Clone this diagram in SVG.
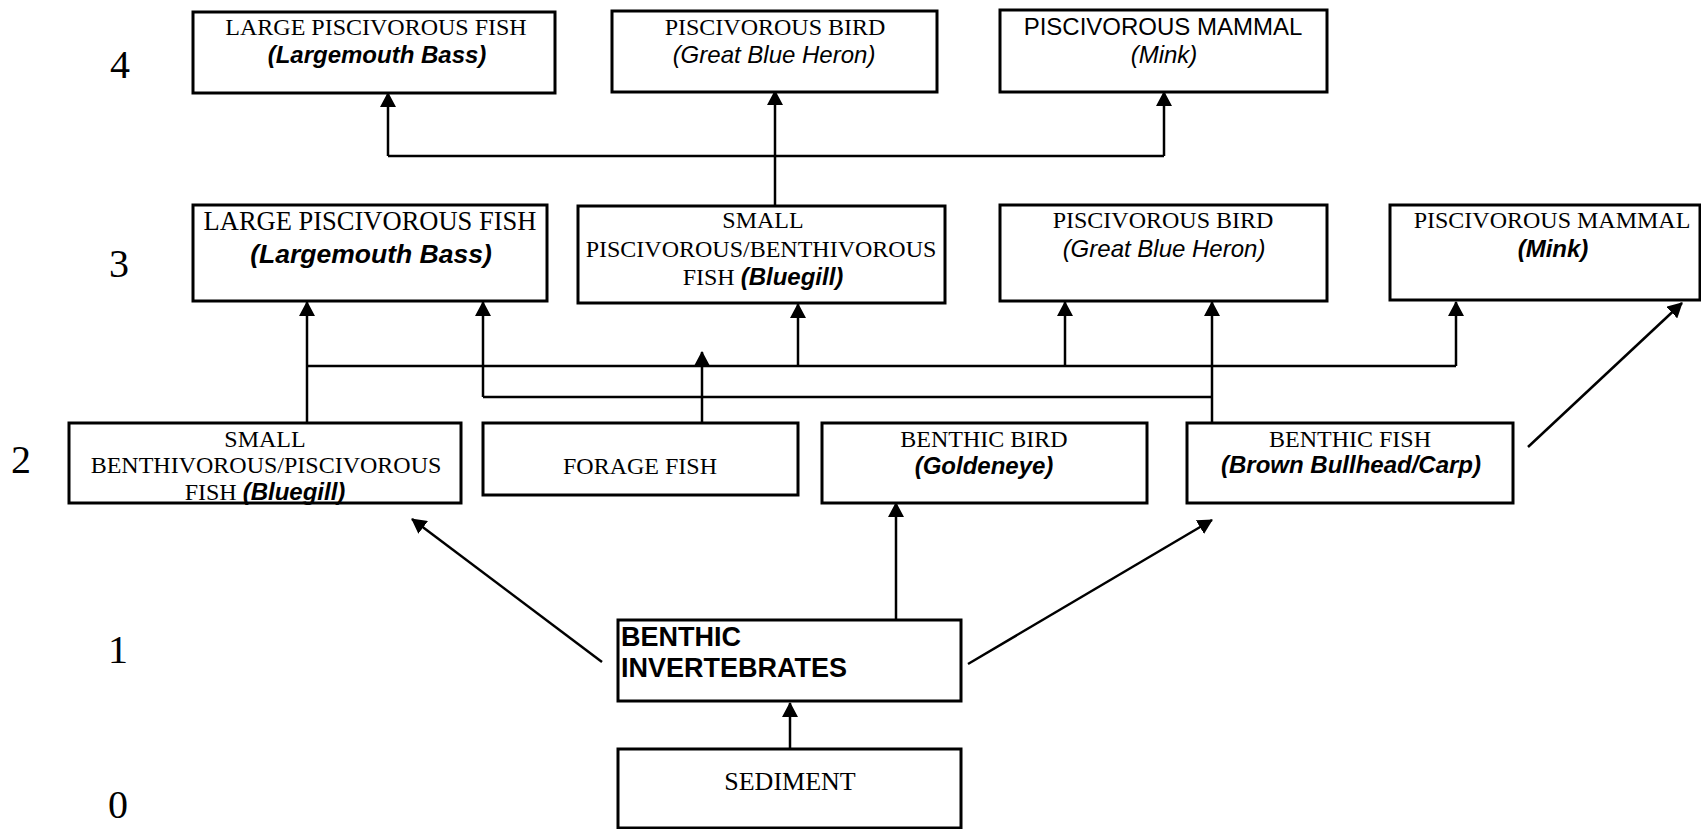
<svg xmlns="http://www.w3.org/2000/svg" width="1701" height="829" viewBox="0 0 1701 829">
<style>
.box{fill:#fff;stroke:#000;stroke-width:3}
.t{font-family:"Liberation Serif","Times New Roman",serif;font-size:24px;fill:#000;text-anchor:middle}
.s{font-family:"Liberation Sans",Arial,sans-serif;font-size:24px;fill:#000;text-anchor:middle}
.i{font-family:"Liberation Sans",Arial,sans-serif;font-style:italic}
.bi{font-family:"Liberation Sans",Arial,sans-serif;font-style:italic;font-weight:bold}
.num{font-family:"Liberation Serif","Times New Roman",serif;font-size:40px;fill:#000;text-anchor:middle}
.ln{fill:none;stroke:#000;stroke-width:2.5}
.ar{fill:none;stroke:#000;stroke-width:2.5;marker-end:url(#ah)}
</style>
<defs>
<marker id="ah" viewBox="0 0 15 16" refX="14" refY="8" markerWidth="15" markerHeight="16" markerUnits="userSpaceOnUse" orient="auto">
<path d="M0,0 L15,8 L0,16 z" fill="#000"/>
</marker>
</defs>
<rect width="1701" height="829" fill="#fff"/>

<g id="levels">
<text class="num" x="120" y="78">4</text>
<text class="num" x="119" y="277">3</text>
<text class="num" x="21" y="473">2</text>
<text class="num" x="118" y="663">1</text>
<text class="num" x="118" y="818">0</text>
</g>

<g id="connectors">
<path class="ln" d="M388,156 H1164"/>
<path class="ar" d="M388,156 V93"/>
<path class="ar" d="M1164,156 V92"/>
<path class="ar" d="M775,206 V91"/>
<path class="ln" d="M307,366 H1456"/>
<path class="ln" d="M483,397 H1212"/>
<path class="ar" d="M307,423 V302"/>
<path class="ar" d="M483,397 V302"/>
<path class="ar" d="M798,366 V304"/>
<path class="ar" d="M1065,366 V302"/>
<path class="ar" d="M1212,423 V302"/>
<path class="ar" d="M1456,366 V302"/>
<path class="ar" d="M702,423 V352"/>
<path class="ar" d="M896,619 V503"/>
<path class="ar" d="M790,749 V703"/>
<path class="ar" d="M602,662 L412,519"/>
<path class="ar" d="M968,664 L1212,520"/>
<path class="ar" d="M1528,447 L1682,303"/>
</g>

<g id="l4-bass">
<rect class="box" x="193" y="12" width="362" height="81"/>
<text class="t" x="376" y="35">LARGE PISCIVOROUS FISH</text>
<text class="s bi" x="377" y="63">(Largemouth Bass)</text>
</g>
<g id="l4-heron">
<rect class="box" x="612" y="11" width="325" height="81"/>
<text class="t" x="775" y="35">PISCIVOROUS BIRD</text>
<text class="s i" x="774" y="63">(Great Blue Heron)</text>
</g>
<g id="l4-mink">
<rect class="box" x="1000" y="10" width="327" height="82"/>
<text class="s" x="1163" y="35">PISCIVOROUS MAMMAL</text>
<text class="s i" x="1164" y="63">(Mink)</text>
</g>

<g id="l3-bass">
<rect class="box" x="193" y="205" width="354" height="96"/>
<text class="t" x="370" y="230" style="font-size:26.5px">LARGE PISCIVOROUS FISH</text>
<text class="s bi" x="371" y="263" style="font-size:26.5px">(Largemouth Bass)</text>
</g>
<g id="l3-bluegill">
<rect class="box" x="578" y="206" width="367" height="97"/>
<text class="t" x="763" y="228">SMALL</text>
<text class="t" x="761" y="257">PISCIVOROUS/BENTHIVOROUS</text>
<text class="t" x="763" y="285">FISH <tspan class="bi">(Bluegill)</tspan></text>
</g>
<g id="l3-heron">
<rect class="box" x="1000" y="205" width="327" height="96"/>
<text class="t" x="1163" y="228">PISCIVOROUS BIRD</text>
<text class="s i" x="1164" y="257">(Great Blue Heron)</text>
</g>
<g id="l3-mink">
<rect class="box" x="1390" y="205" width="310" height="95"/>
<text class="t" x="1552" y="228">PISCIVOROUS MAMMAL</text>
<text class="s bi" x="1553" y="257">(Mink)</text>
</g>

<g id="l2-bluegill">
<rect class="box" x="69" y="423" width="392" height="80"/>
<text class="t" x="265" y="447">SMALL</text>
<text class="t" x="266" y="473">BENTHIVOROUS/PISCIVOROUS</text>
<text class="t" x="265" y="500">FISH <tspan class="bi">(Bluegill)</tspan></text>
</g>
<g id="l2-forage">
<rect class="box" x="483" y="423" width="315" height="72"/>
<text class="t" x="640" y="474">FORAGE FISH</text>
</g>
<g id="l2-goldeneye">
<rect class="box" x="822" y="423" width="325" height="80"/>
<text class="t" x="984" y="447">BENTHIC BIRD</text>
<text class="s bi" x="984" y="474">(Goldeneye)</text>
</g>
<g id="l2-benthicfish">
<rect class="box" x="1187" y="423" width="326" height="80"/>
<text class="t" x="1350" y="447">BENTHIC FISH</text>
<text class="s bi" x="1351" y="473">(Brown Bullhead/Carp)</text>
</g>

<g id="l1-invertebrates">
<rect class="box" x="618" y="620" width="343" height="81"/>
<text x="621" y="646" style="font-family:'Liberation Sans',Arial,sans-serif;font-weight:bold;font-size:27px">BENTHIC</text>
<text x="621" y="677" style="font-family:'Liberation Sans',Arial,sans-serif;font-weight:bold;font-size:27px">INVERTEBRATES</text>
</g>
<g id="l0-sediment">
<rect class="box" x="618" y="749" width="343" height="79"/>
<text class="t" x="790" y="790" style="font-size:26px">SEDIMENT</text>
</g>
</svg>
